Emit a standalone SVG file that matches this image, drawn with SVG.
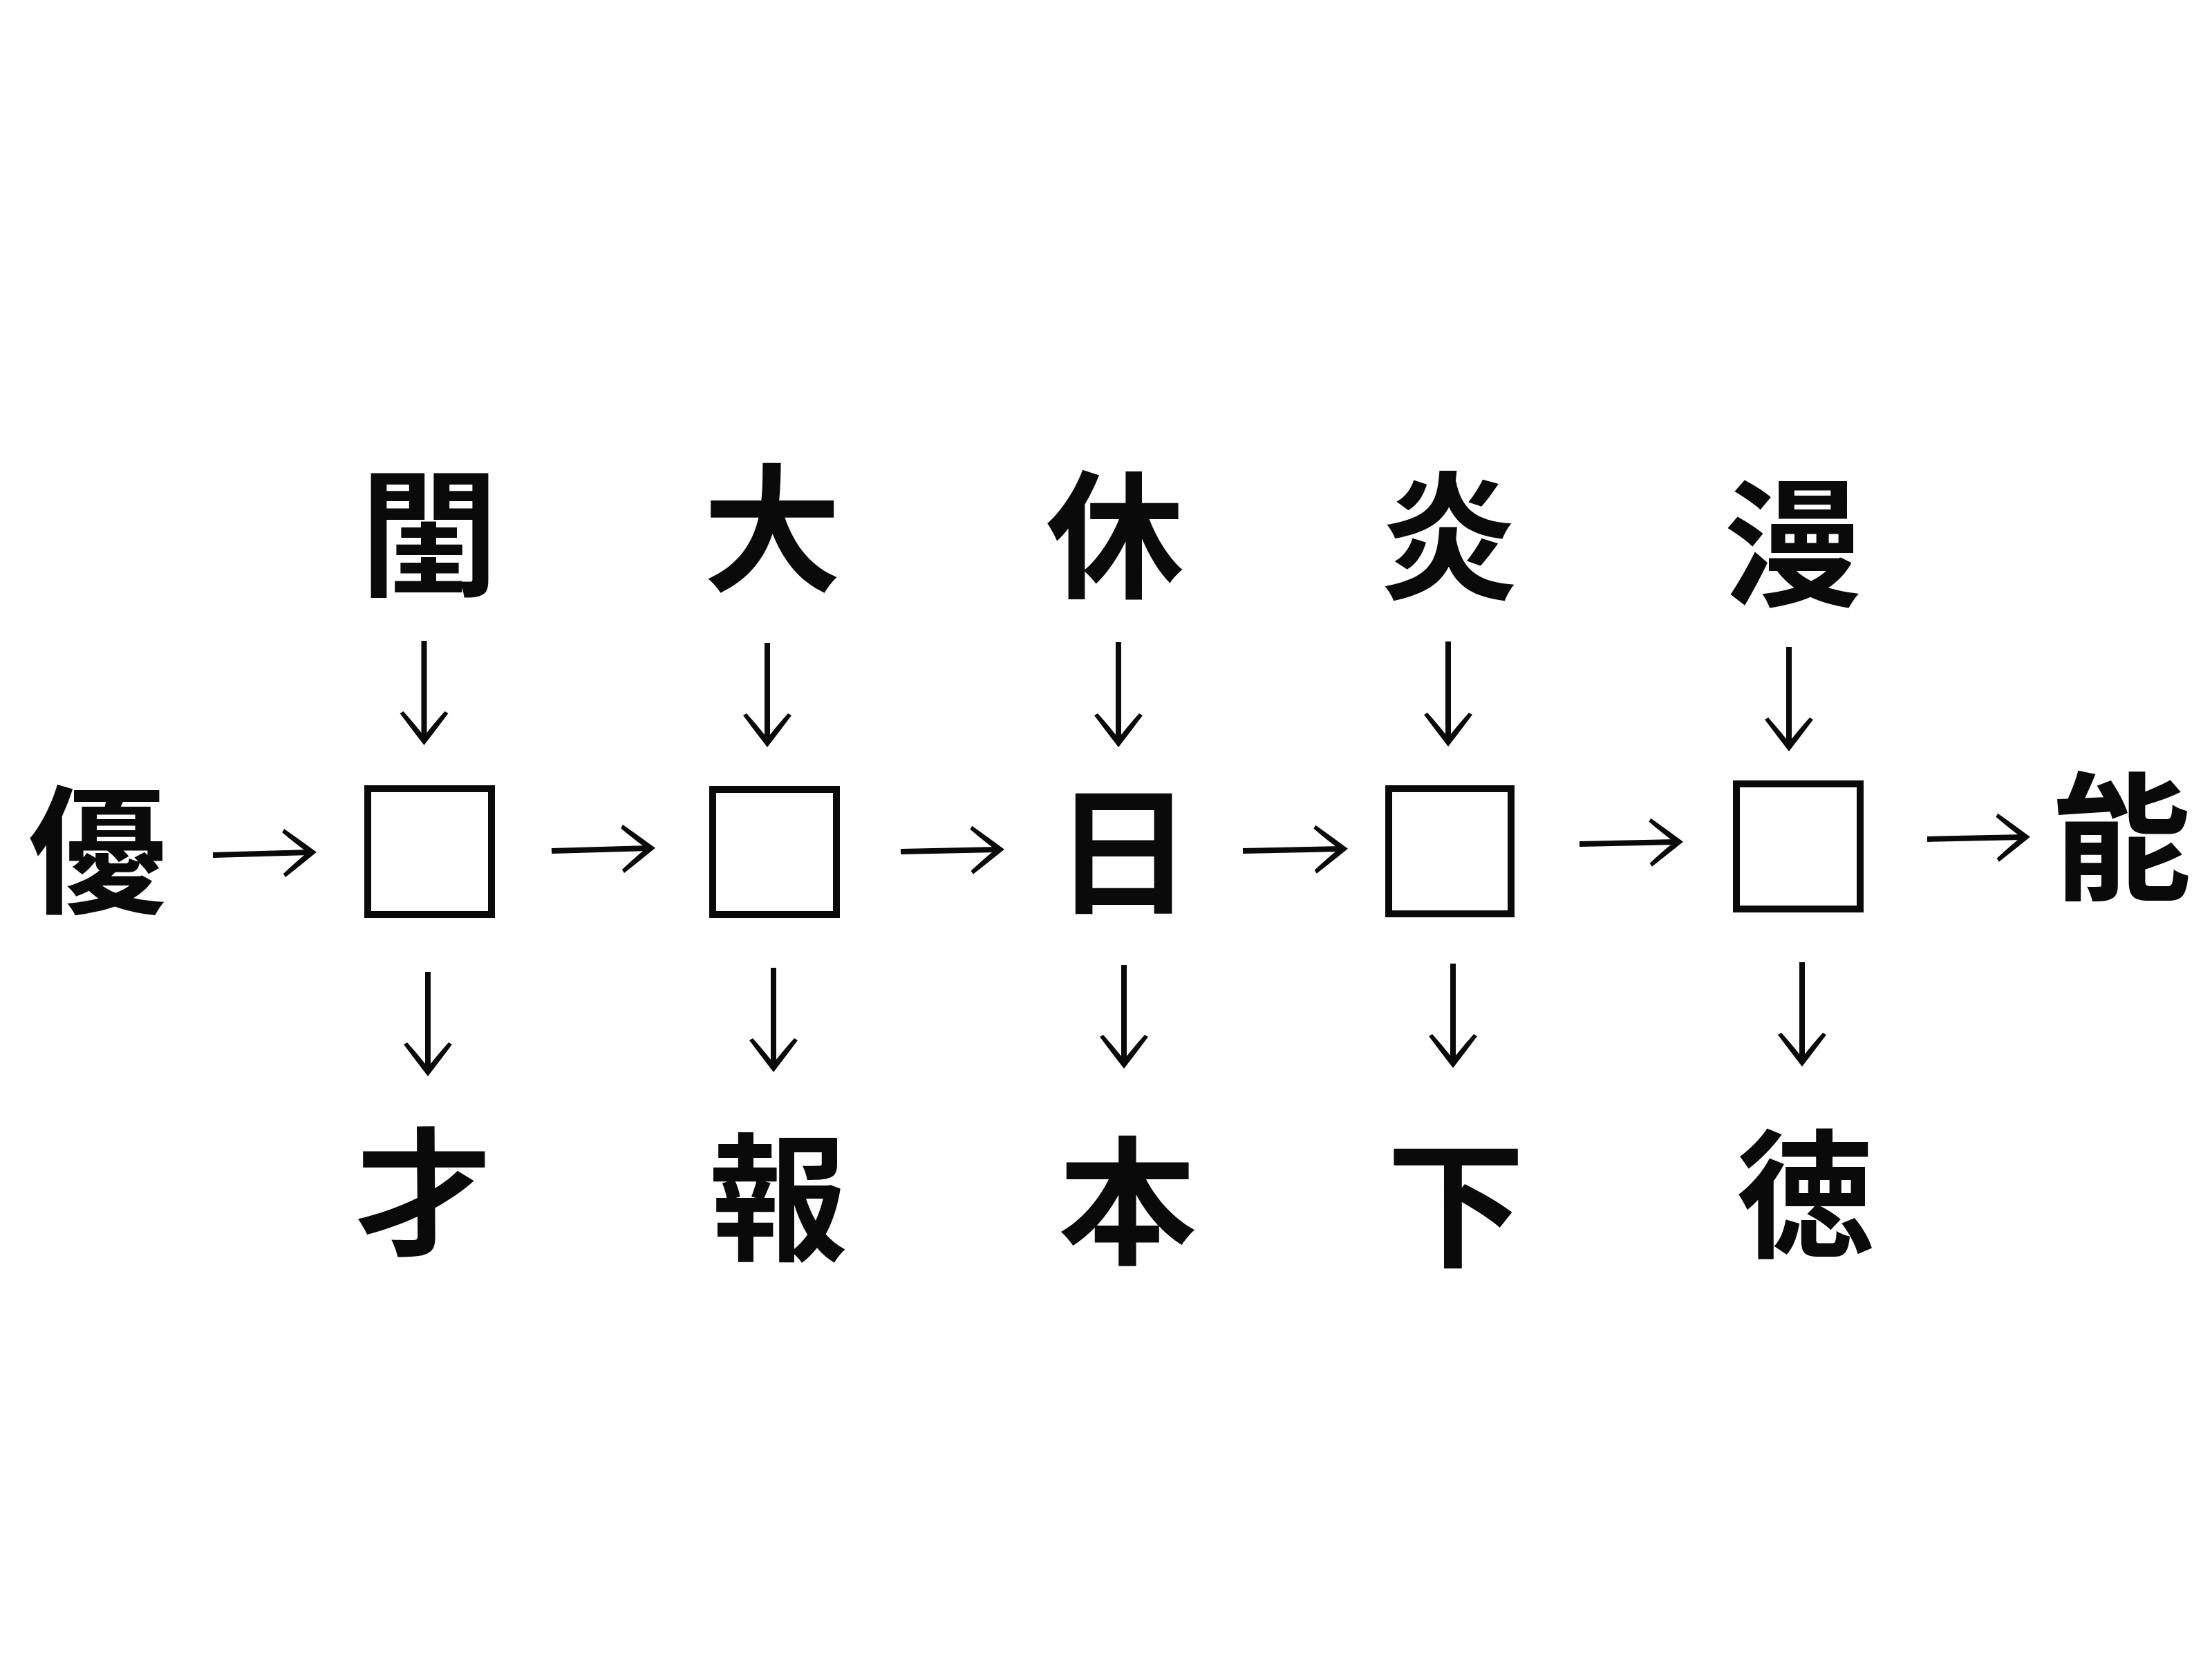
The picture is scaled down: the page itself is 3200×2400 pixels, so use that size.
<svg xmlns="http://www.w3.org/2000/svg" width="3200" height="2400" viewBox="0 0 3200 2400">
  <defs>
    <style>
      .kanji { font-family: "Noto Sans CJK JP", "Noto Sans CJK SC", sans-serif; font-weight: 700; font-size: 200px; fill: #0a0a0a; text-anchor: middle; }
      .blank { fill: none; stroke: #0a0a0a; stroke-width: 10; }
      .conn line { stroke: #0a0a0a; stroke-width: 8; fill: none; marker-end: url(#head); }
    </style>
    <!-- open chevron arrowhead, tip at (0,0) -->
    <marker id="head" viewBox="-60 -45 70 90" markerWidth="70" markerHeight="90" refX="-8" refY="0" orient="auto" markerUnits="userSpaceOnUse">
      <path d="M 2 0 Q -20 -17 -44 -35 L -47 -30 Q -28 -13 -11 0 Q -28 13 -47 30 L -44 35 Q -20 17 2 0 Z" fill="#0a0a0a"/>
    </marker>
  </defs>
  <rect width="3200" height="2400" fill="#ffffff"/>

  <!-- left / right ends of the chain -->
  <g id="n-yuu"><text class="kanji" x="141" y="1305">優</text></g>
  <g id="n-nou"><text class="kanji" x="3070" y="1286">能</text></g>

  <!-- top row -->
  <g id="n-kei"><text class="kanji" x="621" y="847">閨</text></g>
  <g id="n-dai"><text class="kanji" x="1117" y="840">大</text></g>
  <g id="n-kyuu"><text class="kanji" x="1613" y="849">休</text></g>
  <g id="n-en"><text class="kanji" x="2096" y="851">炎</text></g>
  <g id="n-man"><text class="kanji" x="2594" y="861">漫</text></g>

  <!-- middle row: blanks and the given 日 -->
  <g id="n-blank1"><rect class="blank" x="532" y="1141" width="179" height="182"/></g>
  <g id="n-blank2"><rect class="blank" x="1031" y="1142" width="179" height="181"/></g>
  <g id="n-nichi"><text class="kanji" x="1625" y="1306">日</text></g>
  <g id="n-blank4"><rect class="blank" x="2009" y="1141" width="177" height="181"/></g>
  <g id="n-blank5"><rect class="blank" x="2512" y="1134" width="179" height="181"/></g>

  <!-- bottom row -->
  <g id="n-sai"><text class="kanji" x="613" y="1800">才</text></g>
  <g id="n-hou"><text class="kanji" x="1126" y="1808">報</text></g>
  <g id="n-hon"><text class="kanji" x="1631" y="1813">本</text></g>
  <g id="n-ka"><text class="kanji" x="2106" y="1817">下</text></g>
  <g id="n-toku"><text class="kanji" x="2612" y="1803">徳</text></g>

  <g id="connectors" class="conn">
    <!-- horizontal chain -->
    <line x1="308" y1="1237" x2="448" y2="1233"/>
    <line x1="798" y1="1231" x2="938" y2="1227"/>
    <line x1="1303" y1="1232" x2="1443" y2="1229"/>
    <line x1="1798" y1="1231" x2="1940" y2="1228"/>
    <line x1="2285" y1="1221" x2="2425" y2="1218"/>
    <line x1="2788" y1="1214" x2="2927" y2="1211"/>
    <!-- top row into middle -->
    <line x1="613.5" y1="927" x2="613.5" y2="1068"/>
    <line x1="1110" y1="930" x2="1110" y2="1071"/>
    <line x1="1618" y1="929" x2="1618" y2="1071"/>
    <line x1="2095" y1="928" x2="2095" y2="1070"/>
    <line x1="2588" y1="936" x2="2588" y2="1077"/>
    <!-- middle into bottom row -->
    <line x1="619" y1="1406" x2="619" y2="1547"/>
    <line x1="1119" y1="1400" x2="1119" y2="1541"/>
    <line x1="1626" y1="1396" x2="1626" y2="1536"/>
    <line x1="2102" y1="1394" x2="2102" y2="1535"/>
    <line x1="2607" y1="1392" x2="2607" y2="1533"/>
  </g>
</svg>
